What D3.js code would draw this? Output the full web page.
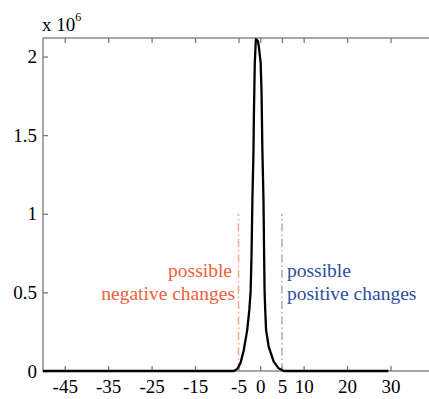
<!DOCTYPE html>
<html>
<head>
<meta charset="utf-8">
<script src="https://cdn.jsdelivr.net/npm/d3@7"></script>
<style>
  body { margin: 0; background: #fff; }
  svg { display: block; font-family: "Liberation Serif", "DejaVu Serif", serif; }
  .axis path { display: none; }
  .axis line { stroke: #7a7a7a; stroke-width: 1.3; }
  .axis text { font-size: 19px; fill: #000; font-family: "Liberation Serif", serif; }
</style>
</head>
<body>
<svg id="chart" width="429" height="399"></svg>
<script>
// values (y in units of 10^6)
var xVals = [-50, -6.1, -5.3, -4.55, -3.8, -3.0, -2.5, -2.2, -2.0, -1.8, -1.55, -1.45, -1.25, -1.0,
             -0.55, -0.35, 0.1, 0.3, 0.5, 0.75, 0.9, 1.0, 1.15, 1.35, 1.95, 3.1, 4.25, 5.4, 29.5];
var yVals = [0, 0, 0.013, 0.05, 0.13, 0.26, 0.39, 0.51, 0.74, 1.09, 1.40, 1.64, 1.96, 2.11,
             2.10, 2.07, 1.96, 1.78, 1.40, 1.09, 0.74, 0.51, 0.39, 0.26, 0.155, 0.06, 0.017, 0, 0];
var xTicks = [-45, -35, -25, -15, -5, 0, 5, 10, 20, 30];
var yTicks = [0, 0.5, 1, 1.5, 2];
var markerX = [-5, 5];
var markerTop = 1.0;

var svg = d3.select('#chart');
var plotLeft = 43, plotRight = 434, plotTop = 38, plotBottom = 371;

var x = d3.scaleLinear().domain([-50, 40]).range([plotLeft, plotRight]);
var y = d3.scaleLinear().domain([0, 2.118]).range([plotBottom, plotTop]);

// box
svg.append('rect')
  .attr('x', plotLeft).attr('y', plotTop)
  .attr('width', plotRight - plotLeft).attr('height', plotBottom - plotTop)
  .attr('fill', 'none').attr('stroke', '#7a7a7a').attr('stroke-width', 1.3);

var fmt = function (d) { return String(d); };

svg.append('g').attr('class', 'axis')
  .attr('transform', 'translate(0,' + plotBottom + ')')
  .call(d3.axisBottom(x).tickValues(xTicks).tickSizeInner(-5).tickSizeOuter(0).tickPadding(9).tickFormat(fmt));

svg.append('g').attr('class', 'axis')
  .attr('transform', 'translate(0,' + plotTop + ')')
  .call(d3.axisTop(x).tickValues(xTicks).tickSizeInner(-5).tickSizeOuter(0).tickFormat(''));

svg.append('g').attr('class', 'axis')
  .attr('transform', 'translate(' + plotLeft + ',0)')
  .call(d3.axisLeft(y).tickValues(yTicks).tickSizeInner(-5).tickSizeOuter(0).tickPadding(6).tickFormat(fmt));

svg.append('g').attr('class', 'axis')
  .attr('transform', 'translate(' + plotRight + ',0)')
  .call(d3.axisRight(y).tickValues(yTicks).tickSizeInner(-5).tickSizeOuter(0).tickFormat(''));

// exponent label
var expo = svg.append('text').attr('x', 42).attr('y', 31).attr('font-size', 19);
expo.append('tspan').text('x 10');
expo.append('tspan').attr('dy', -10).attr('font-size', 12).text('6');

// marker lines
var markerColors = ['#f4a08c', '#93a8d6'];
svg.selectAll('.marker')
  .data(markerX)
  .enter()
  .append('line')
  .attr('class', 'marker')
  .attr('x1', function (d) { return x(d); })
  .attr('x2', function (d) { return x(d); })
  .attr('y1', y(0))
  .attr('y2', y(markerTop))
  .attr('stroke', function (d, i) { return markerColors[i]; })
  .attr('stroke-width', 1.4)
  .attr('stroke-dasharray', '8,3,1.5,3');

// curve
var line = d3.line()
  .x(function (d, i) { return x(xVals[i]); })
  .y(function (d, i) { return y(yVals[i]); });

svg.append('path')
  .datum(xVals)
  .attr('d', line)
  .attr('fill', 'none')
  .attr('stroke', '#000')
  .attr('stroke-width', 2.3)
  .attr('stroke-linejoin', 'round');

// annotations
var neg = svg.append('text').attr('fill', '#f0603c').attr('font-size', 19.5).attr('text-anchor', 'end');
neg.append('tspan').attr('x', 232).attr('y', 277).text('possible');
neg.append('tspan').attr('x', 235).attr('y', 300).text('negative changes');

var pos = svg.append('text').attr('fill', '#2b4ea0').attr('font-size', 19.5);
pos.append('tspan').attr('x', 287).attr('y', 277).text('possible');
pos.append('tspan').attr('x', 287).attr('y', 300).text('positive changes');
</script>
</body>
</html>
